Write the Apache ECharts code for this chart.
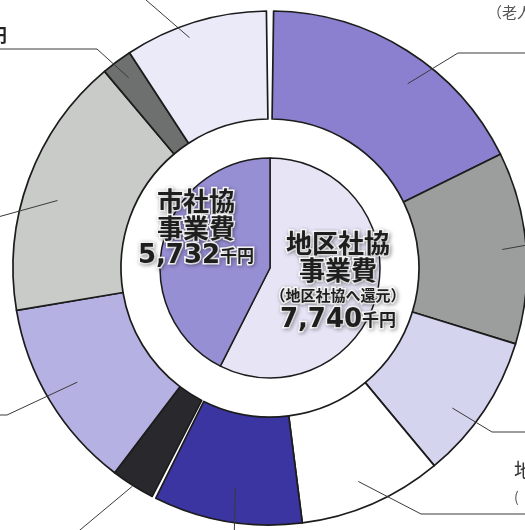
<!DOCTYPE html>
<html><head><meta charset="utf-8">
<script src="https://cdn.jsdelivr.net/npm/echarts@6/dist/echarts.min.js"></script>
<style>html,body{margin:0;padding:0;background:#fff}#c{width:525px;height:530px}</style>
</head><body><div id="c"></div>
<script>
// ---- data ----
const innerNames = ['地区社協事業費', '市社協事業費'];
const innerValues = [7740, 5732];               // 千円
const districtValues = [2369, 1636, 1246, 1224, 1265];
const cityValues = [374, 1635, 2241, 262, 1220];
const outerFragments = ['（老人', '', '', '地\n(', '', '', '', '', '千円', ''];

// ---- style ----
const innerColors = ['#e6e4f5', '#978fd4'];
const districtColors = ['#8a80cf', '#9c9d9d', '#d5d4ef', '#ffffff', '#3b35a2'];
const cityColors = ['#29282d', '#b5b1e2', '#c9cbc9', '#6e6f6f', '#ebeaf8'];
const CX = 270, CY = 268, R_PIE = 110, R_IN = 149, R_OUT = 257;
const GAP_TOP = 1.6, GAP_BOTTOM = 0.9;
// leader lines: [angle offset from slice middle, start radius, elbow dx, elbow dy, end dx, end dy]
const leaders = [
  [4.5, 230, 188, -215, 320, -215],
  [0, 233, 290, -29, 290, -29],
  [3.8, 230, 222, 164, 320, 164],
  [1, 231, 151, 246, 320, 246],
  [-0.6, 222, -36, 277, -36, 277],
  [0, 258, -214, 282, -214, 282],
  [0.5, 224, -263, 147, -330, 147],
  [-2.6, 223, -272, -51, -330, -51],
  [0, 237, -173, -219, -330, -219],
  [-2.3, 244, -147, -288, -147, -288]
];
// fragment label positions (offset from centre) and alignment
const fragPos = {0: [217, -256, 'left'], 3: [244, 215, 'left'], 8: [-263, -233, 'right']};

const total = innerValues[0] + innerValues[1];
const districtSpan = 360 * innerValues[0] / total;

function midAngles(values, a0, a1) {
  const sum = values.reduce((s, v) => s + v, 0);
  let cum = 0;
  return values.map(v => { const m = a0 + (cum + v / 2) / sum * (a1 - a0); cum += v; return m; });
}
const mids = midAngles(districtValues, GAP_TOP / 2, districtSpan - GAP_BOTTOM / 2)
  .concat(midAngles(cityValues, districtSpan + GAP_BOTTOM / 2, 360 - GAP_TOP / 2));

function polar(a, r) {
  const t = a * Math.PI / 180;
  return [CX + r * Math.sin(t), CY - r * Math.cos(t)];
}

const halo = {
  textBorderColor: '#ffffff', textBorderWidth: 3,
  textShadowColor: 'rgba(0,0,0,0.3)', textShadowBlur: 4, textShadowOffsetX: 1, textShadowOffsetY: 1
};
const cjk = '"Noto Sans CJK JP", sans-serif';
const rich = {
  t: Object.assign({fontFamily: cjk, fontWeight: 'bold', fontSize: 26, lineHeight: 27, color: '#1e1e1e'}, halo),
  s: Object.assign({fontFamily: cjk, fontWeight: 'bold', fontSize: 15, lineHeight: 22, color: '#1e1e1e'}, halo),
  n: Object.assign({fontFamily: '"DejaVu Sans", sans-serif', fontWeight: 'bold', fontSize: 26, lineHeight: 28, color: '#1e1e1e'}, halo),
  u: Object.assign({fontFamily: cjk, fontWeight: 'bold', fontSize: 17, lineHeight: 28, color: '#1e1e1e'}, halo)
};
function fmtNum(v) { return v.toLocaleString('en-US'); }
const innerLabelPos = [[68, 14], [-74, -39]];

function fragmentLabel(k) {
  if (k === 8) return {fontSize: 18, fontWeight: 'bold', color: '#222'};
  if (k === 3) return {rich: {a: {fontFamily: cjk, fontSize: 20, lineHeight: 28, color: '#333'}, b: {fontFamily: cjk, fontSize: 14, lineHeight: 26, color: '#555'}}, formatter: '{a|地}\n{b|(}'};
  if (k === 0) return {fontSize: 15, color: '#555'};
  return {};
}

// ring of slices (no labels)
function ringSeries(values, colors, startAngle, endAngle) {
  return {
    type: 'pie', radius: [R_IN, R_OUT], center: [CX, CY],
    startAngle: startAngle, endAngle: endAngle, clockwise: true,
    avoidLabelOverlap: false, silent: true, animation: false, z: 2,
    itemStyle: {borderColor: '#1c1c1c', borderWidth: 1.7},
    label: {show: false}, labelLine: {show: false},
    data: values.map((v, i) => ({value: v, itemStyle: {color: colors[i]}}))
  };
}
// same slices, transparent, carrying the leader lines & labels above the ring
function leaderSeries(values, startAngle, endAngle, offset) {
  return {
    type: 'pie', radius: [R_IN, R_OUT], center: [CX, CY],
    startAngle: startAngle, endAngle: endAngle, clockwise: true,
    avoidLabelOverlap: false, silent: true, animation: false, z: 5,
    itemStyle: {color: 'rgba(0,0,0,0)', borderWidth: 0},
    label: {
      show: true, position: 'outside',
      formatter: p => outerFragments[offset + p.dataIndex] || ' ',
      fontFamily: cjk, fontSize: 15, color: '#444', lineHeight: 26
    },
    labelLine: {show: true, showAbove: true, lineStyle: {color: '#3a3a3a', width: 1}},
    labelLayout: function (params) {
      const k = offset + params.dataIndex;
      const L = leaders[k];
      const p0 = polar(mids[k] + L[0], L[1]);
      const p1 = [CX + L[2], CY + L[3]];
      const p2 = [CX + L[4], CY + L[5]];
      const fp = fragPos[k];
      const out = {labelLinePoints: [p0, p1, p2], hideOverlap: false};
      if (fp) {
        out.x = CX + fp[0]; out.y = CY + fp[1]; out.align = fp[2]; out.verticalAlign = 'middle';
      } else {
        out.x = p2[0]; out.y = p2[1];
      }
      return out;
    },
    data: values.map((v, i) => ({value: v, label: fragmentLabel(offset + i)}))
  };
}

const dStart = 90 - GAP_TOP / 2, dEnd = 90 - districtSpan + GAP_BOTTOM / 2;
const cStart = 90 - districtSpan - GAP_BOTTOM / 2, cEnd = -270 + GAP_TOP / 2;

const chart = echarts.init(document.getElementById('c'), null, {renderer: 'canvas'});
chart.setOption({
  backgroundColor: '#ffffff',
  animation: false,
  series: [
    {
      type: 'pie', radius: [0, R_PIE], center: [CX, CY], startAngle: 90, clockwise: true,
      avoidLabelOverlap: false, silent: true, animation: false, z: 2,
      itemStyle: {borderColor: '#1c1c1c', borderWidth: 1.5},
      label: {
        show: true, position: 'inside', rich: rich, align: 'center',
        formatter: function (p) {
          if (p.dataIndex === 0) {
            return '{t|地区社協}\n{t|事業費}\n{s|（地区社協へ還元）}\n{n|' + fmtNum(p.value) + '}{u|千円}';
          }
          return '{t|市社協}\n{t|事業費}\n{n|' + fmtNum(p.value) + '}{u|千円}';
        }
      },
      labelLayout: function (params) {
        const o = innerLabelPos[params.dataIndex];
        return {x: CX + o[0], y: CY + o[1], align: 'center', verticalAlign: 'middle'};
      },
      data: innerValues.map((v, i) => ({value: v, name: innerNames[i], itemStyle: {color: innerColors[i]}}))
    },
    ringSeries(districtValues, districtColors, dStart, dEnd),
    ringSeries(cityValues, cityColors, cStart, cEnd),
    leaderSeries(districtValues, dStart, dEnd, 0),
    leaderSeries(cityValues, cStart, cEnd, 5)
  ]
});
</script>
</body></html>
